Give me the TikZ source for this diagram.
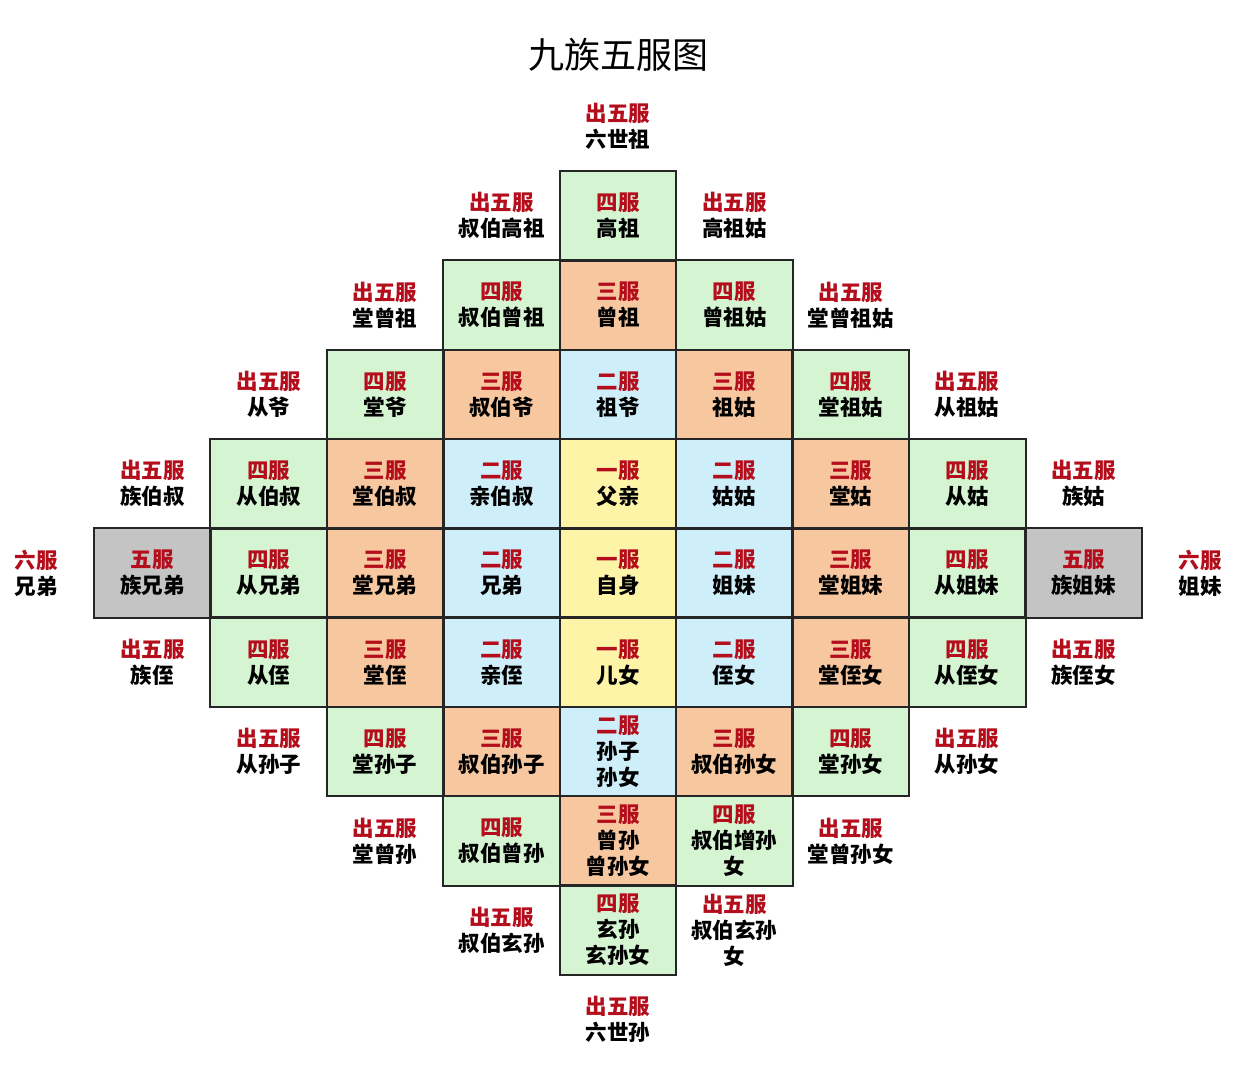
\documentclass[tikz,border=0pt]{standalone}
\usepackage{fontspec}
\newfontfamily\cjk{Noto Sans CJK SC}
\definecolor{gc}{RGB}{212,244,210}
\definecolor{oc}{RGB}{247,199,160}
\definecolor{bc}{RGB}{206,238,250}
\definecolor{yc}{RGB}{254,244,168}
\definecolor{sc}{RGB}{196,196,196}
\definecolor{rc}{RGB}{180,14,28}
\newcommand\fu[1]{{\color{rc}#1}}
\tikzset{
  cellbox/.style={minimum width=116.4pt, minimum height=89.3pt,
    inner sep=0pt, align=center, text=black, font=\cjk\bfseries\fontsize{21.5}{26}\selectfont},
  f1/.style={cellbox, fill=yc},
  f2/.style={cellbox, fill=bc},
  f3/.style={cellbox, fill=oc},
  f4/.style={cellbox, fill=gc},
  f5/.style={cellbox, fill=sc},
  cellline/.style={draw=black!85, line width=2pt},
  outer/.style={align=center, inner sep=0pt, text=black, font=\cjk\bfseries\fontsize{21.5}{26}\selectfont},
  titlestyle/.style={font=\cjk\fontsize{36}{40}\selectfont, text=black}
}
\begin{document}
\begin{tikzpicture}[x=1pt,y=-1pt]
\useasboundingbox (0,0) rectangle (1242,1071);
\node[titlestyle] (title) at (618,55) {九族五服图};
\begin{scope}[shift={(618,573)}, x=116.4pt, y=-89.3pt]
% row -5
\node[outer] (o0m5) at (0,-5) {\fu{出五服}\\六世祖};
% row -4
\node[outer] (om1m4) at (-1,-4) {\fu{出五服}\\叔伯高祖};
\node[f4] (c0m4) at (0,-4) {\fu{四服}\\高祖};
\node[outer] (o1m4) at (1,-4) {\fu{出五服}\\高祖姑};
% row -3
\node[outer] (om2m3) at (-2,-3) {\fu{出五服}\\堂曾祖};
\node[f4] (cm1m3) at (-1,-3) {\fu{四服}\\叔伯曾祖};
\node[f3] (c0m3) at (0,-3) {\fu{三服}\\曾祖};
\node[f4] (c1m3) at (1,-3) {\fu{四服}\\曾祖姑};
\node[outer] (o2m3) at (2,-3) {\fu{出五服}\\堂曾祖姑};
% row -2
\node[outer] (om3m2) at (-3,-2) {\fu{出五服}\\从爷};
\node[f4] (cm2m2) at (-2,-2) {\fu{四服}\\堂爷};
\node[f3] (cm1m2) at (-1,-2) {\fu{三服}\\叔伯爷};
\node[f2] (c0m2) at (0,-2) {\fu{二服}\\祖爷};
\node[f3] (c1m2) at (1,-2) {\fu{三服}\\祖姑};
\node[f4] (c2m2) at (2,-2) {\fu{四服}\\堂祖姑};
\node[outer] (o3m2) at (3,-2) {\fu{出五服}\\从祖姑};
% row -1
\node[outer] (om4m1) at (-4,-1) {\fu{出五服}\\族伯叔};
\node[f4] (cm3m1) at (-3,-1) {\fu{四服}\\从伯叔};
\node[f3] (cm2m1) at (-2,-1) {\fu{三服}\\堂伯叔};
\node[f2] (cm1m1) at (-1,-1) {\fu{二服}\\亲伯叔};
\node[f1] (c0m1) at (0,-1) {\fu{一服}\\父亲};
\node[f2] (c1m1) at (1,-1) {\fu{二服}\\姑姑};
\node[f3] (c2m1) at (2,-1) {\fu{三服}\\堂姑};
\node[f4] (c3m1) at (3,-1) {\fu{四服}\\从姑};
\node[outer] (o4m1) at (4,-1) {\fu{出五服}\\族姑};
% row 0
\node[outer] (om50) at (-5,0) {\fu{六服}\\兄弟};
\node[f5] (cm40) at (-4,0) {\fu{五服}\\族兄弟};
\node[f4] (cm30) at (-3,0) {\fu{四服}\\从兄弟};
\node[f3] (cm20) at (-2,0) {\fu{三服}\\堂兄弟};
\node[f2] (cm10) at (-1,0) {\fu{二服}\\兄弟};
\node[f1] (c00) at (0,0) {\fu{一服}\\自身};
\node[f2] (c10) at (1,0) {\fu{二服}\\姐妹};
\node[f3] (c20) at (2,0) {\fu{三服}\\堂姐妹};
\node[f4] (c30) at (3,0) {\fu{四服}\\从姐妹};
\node[f5] (c40) at (4,0) {\fu{五服}\\族姐妹};
\node[outer] (o50) at (5,0) {\fu{六服}\\姐妹};
% row 1
\node[outer] (om41) at (-4,1) {\fu{出五服}\\族侄};
\node[f4] (cm31) at (-3,1) {\fu{四服}\\从侄};
\node[f3] (cm21) at (-2,1) {\fu{三服}\\堂侄};
\node[f2] (cm11) at (-1,1) {\fu{二服}\\亲侄};
\node[f1] (c01) at (0,1) {\fu{一服}\\儿女};
\node[f2] (c11) at (1,1) {\fu{二服}\\侄女};
\node[f3] (c21) at (2,1) {\fu{三服}\\堂侄女};
\node[f4] (c31) at (3,1) {\fu{四服}\\从侄女};
\node[outer] (o41) at (4,1) {\fu{出五服}\\族侄女};
% row 2
\node[outer] (om32) at (-3,2) {\fu{出五服}\\从孙子};
\node[f4] (cm22) at (-2,2) {\fu{四服}\\堂孙子};
\node[f3] (cm12) at (-1,2) {\fu{三服}\\叔伯孙子};
\node[f2] (c02) at (0,2) {\fu{二服}\\孙子\\孙女};
\node[f3] (c12) at (1,2) {\fu{三服}\\叔伯孙女};
\node[f4] (c22) at (2,2) {\fu{四服}\\堂孙女};
\node[outer] (o32) at (3,2) {\fu{出五服}\\从孙女};
% row 3
\node[outer] (om23) at (-2,3) {\fu{出五服}\\堂曾孙};
\node[f4] (cm13) at (-1,3) {\fu{四服}\\叔伯曾孙};
\node[f3] (c03) at (0,3) {\fu{三服}\\曾孙\\曾孙女};
\node[f4] (c13) at (1,3) {\fu{四服}\\叔伯增孙\\女};
\node[outer] (o23) at (2,3) {\fu{出五服}\\堂曾孙女};
% row 4
\node[outer] (om14) at (-1,4) {\fu{出五服}\\叔伯玄孙};
\node[f4] (c04) at (0,4) {\fu{四服}\\玄孙\\玄孙女};
\node[outer] (o14) at (1,4) {\fu{出五服}\\叔伯玄孙\\女};
% row 5
\node[outer] (o05) at (0,5) {\fu{出五服}\\六世孙};
\end{scope}
% cell borders, drawn after all fills
\foreach \n in {c0m4,cm1m3,c0m3,c1m3,cm2m2,cm1m2,c0m2,c1m2,c2m2,
  cm3m1,cm2m1,cm1m1,c0m1,c1m1,c2m1,c3m1,
  cm40,cm30,cm20,cm10,c00,c10,c20,c30,c40,
  cm31,cm21,cm11,c01,c11,c21,c31,
  cm22,cm12,c02,c12,c22,cm13,c03,c13,c04}
  \draw[cellline] (\n.south west) rectangle (\n.north east);
\end{tikzpicture}
\end{document}
